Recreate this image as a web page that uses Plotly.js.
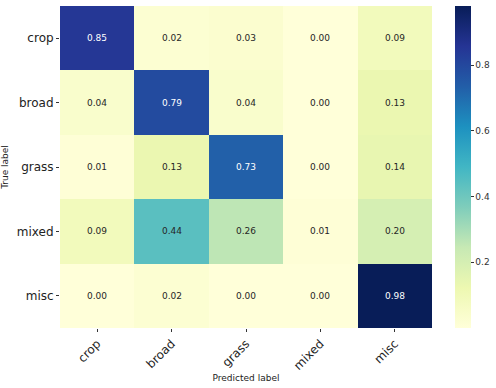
<!DOCTYPE html>
<html>
<head>
<meta charset="utf-8">
<script src="https://cdn.plot.ly/plotly-3.0.1.min.js"></script>
<style>
  body { margin: 0; background: #fff; }
  #cm { width: 496px; height: 388px; }
</style>
</head>
<body>
<div id="cm"></div>
<script>
// class labels
var labels = ['crop', 'broad', 'grass', 'mixed', 'misc'];

// rows = true label, cols = predicted label
var crop  = [0.85, 0.02, 0.03, 0.00, 0.09];
var broad = [0.04, 0.79, 0.04, 0.00, 0.13];
var grass = [0.01, 0.13, 0.73, 0.00, 0.14];
var mixed = [0.09, 0.44, 0.26, 0.01, 0.20];
var misc  = [0.00, 0.02, 0.00, 0.00, 0.98];

var cbTicks = [0.2, 0.4, 0.6, 0.8];

var z = [crop, broad, grass, mixed, misc];

// matplotlib YlGnBu
var ylgnbu = ['#ffffd9', '#edf8b1', '#c7e9b4', '#7fcdbb', '#41b6c4', '#1d91c0', '#225ea8', '#253494', '#081d58'];
var scale = ylgnbu.map(function (c, i) { return [i / (ylgnbu.length - 1), c]; });

var flat = [].concat.apply([], z);
var zmin = Math.min.apply(null, flat);
var zmax = Math.max.apply(null, flat);

var heat = {
  type: 'heatmap',
  x: labels,
  y: labels,
  z: z,
  zmin: zmin,
  zmax: zmax,
  colorscale: scale,
  xgap: 0, ygap: 0,
  hoverinfo: 'skip',
  colorbar: {
    x: 1.062, xanchor: 'left', xpad: 0,
    y: 0.5, yanchor: 'middle', ypad: 0,
    len: 1, thickness: 16,
    outlinewidth: 0,
    tickvals: cbTicks,
    ticktext: cbTicks.map(function (v) { return v.toFixed(1); }),
    ticks: 'outside', ticklen: 3, tickcolor: '#333',
    tickfont: { size: 9, color: '#333' }
  }
};

// cell value annotations
var notes = [];
for (var r = 0; r < labels.length; r++) {
  for (var c = 0; c < labels.length; c++) {
    var v = z[r][c];
    notes.push({
      x: labels[c], y: labels[r],
      text: v.toFixed(2),
      showarrow: false,
      font: { size: 9, color: (v - zmin) / (zmax - zmin) > 0.6 ? '#ffffff' : '#262626' }
    });
  }
}

var layout = {
  width: 496, height: 388,
  margin: { l: 60, r: 64, t: 6, b: 60, autoexpand: false },
  paper_bgcolor: '#fff',
  plot_bgcolor: '#fff',
  font: { family: 'DejaVu Sans, sans-serif', color: '#222' },
  annotations: notes,
  xaxis: {
    type: 'category',
    tickangle: -45,
    tickfont: { size: 12 },
    ticks: 'outside', ticklen: 3, tickcolor: '#333',
    showgrid: false, zeroline: false, showline: false,
    automargin: false,
    title: { text: 'Predicted label', font: { size: 9 }, standoff: 2 }
  },
  yaxis: {
    type: 'category',
    autorange: 'reversed',
    tickfont: { size: 12 },
    ticks: 'outside', ticklen: 3, tickcolor: '#333',
    showgrid: false, zeroline: false, showline: false,
    automargin: false,
    title: { text: 'True label', font: { size: 9 }, standoff: 6 }
  }
};

Plotly.newPlot('cm', [heat], layout, { displayModeBar: false, staticPlot: true });
</script>
</body>
</html>
